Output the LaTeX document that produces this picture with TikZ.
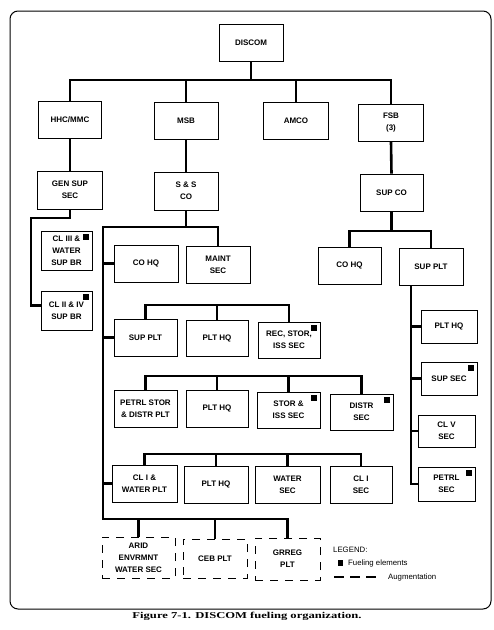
\documentclass[tikz,border=0pt]{standalone}
\usepackage{fontspec}
\setmainfont{Liberation Sans}
\newfontfamily\captionfont{Liberation Serif}

\begin{document}
\begin{tikzpicture}[x=1pt,y=-1pt,font=\fontsize{8}{12}\selectfont\bfseries]
  \tikzstyle{unit}=[draw, line width=0.9pt, align=center, inner sep=1pt, minimum width=64pt, minimum height=37pt]
  \tikzstyle{augment}=[unit, dash pattern=on 8pt off 7pt]
  \tikzstyle{link}=[line width=2.6pt, line join=miter]
  \tikzstyle{key}=[font=\fontsize{7.8}{10}\selectfont\mdseries, anchor=west, inner sep=0pt]

  \useasboundingbox (0,0) rectangle (494,630);
  \draw[line width=1pt, rounded corners=8pt] (10,11) rectangle (491,609);

  \node[unit] (discom) at (251,43) {DISCOM};
  \node[unit, minimum width=63pt] (hhc) at (70,120) {HHC/MMC};
  \node[unit] (msb) at (186,121) {MSB};
  \node[unit, minimum width=65pt] (amco) at (296,121) {AMCO};
  \node[unit, minimum width=65pt] (fsb) at (391,123) {FSB\\(3)};

  \node[unit, minimum width=65pt, minimum height=38pt] (gensup) at (70,190) {GEN SUP\\SEC};
  \node[unit, minimum width=51pt, minimum height=39pt] (cl3) at (66.5,250.5) {CL III \&\\WATER\\SUP BR};
  \node[unit, minimum width=51pt, minimum height=39pt] (cl2) at (66.5,310.5) {CL II \& IV\\SUP BR};

  \node[unit, minimum height=38pt] (ssco) at (186,191) {S \& S\\CO};
  \node[unit] (cohq1) at (146,263.5) {CO HQ};
  \node[unit] (maint) at (218,264.5) {MAINT\\SEC};
  \node[unit, minimum width=63pt] (supplt1) at (145.5,337.5) {SUP PLT};
  \node[unit, minimum width=62pt, minimum height=36pt] (plthq1) at (217,338) {PLT HQ};
  \node[unit, minimum width=62pt, minimum height=36pt] (reciss) at (289,340) {REC, STOR,\\ISS SEC};
  \node[unit, minimum width=63pt] (petrlstor) at (145.5,408.5) {PETRL STOR\\\& DISTR PLT};
  \node[unit, minimum width=62pt] (plthq2) at (217,408.5) {PLT HQ};
  \node[unit, minimum width=63pt, minimum height=36pt] (storiss) at (288.5,410) {STOR \&\\ISS SEC};
  \node[unit, minimum width=63pt, minimum height=36pt] (distr) at (361.5,412) {DISTR\\SEC};
  \node[unit, minimum width=65pt] (clwater) at (144.5,483.5) {CL I \&\\WATER PLT};
  \node[unit] (plthq3) at (216,484.5) {PLT HQ};
  \node[unit, minimum width=65pt] (watersec) at (287.5,484.5) {WATER\\SEC};
  \node[unit, minimum width=62pt] (cl1sec) at (361,485) {CL I\\SEC};
  \node[augment, minimum width=73pt, minimum height=41pt] (arid) at (138.5,557.5) {ARID\\ENVRMNT\\WATER SEC};
  \node[augment, minimum height=39pt] (ceb) at (215,558.5) {CEB PLT};
  \node[augment, minimum width=65pt, minimum height=42pt] (grreg) at (287.5,559) {GRREG\\PLT};

  \node[unit, minimum width=63pt] (supco) at (391.5,192.5) {SUP CO};
  \node[unit, minimum width=63pt] (cohq2) at (349.5,265.5) {CO HQ};
  \node[unit] (supplt2) at (431,266.5) {SUP PLT};
  \node[unit, minimum width=56pt, minimum height=33pt] (plthq4) at (449,326.5) {PLT HQ};
  \node[unit, minimum width=56pt, minimum height=33pt] (supsec) at (449,378.5) {SUP SEC};
  \node[unit, minimum width=57pt, minimum height=32pt] (clv) at (446.5,431) {CL V\\SEC};
  \node[unit, minimum width=57pt, minimum height=34pt] (petrl) at (446.5,484) {PETRL\\SEC};

  \foreach \n in {cl3,cl2,reciss,storiss,distr,supsec,petrl}
    \fill ([xshift=-3.5pt,yshift=-3pt]\n.north east) rectangle ++(-6pt,-6pt);

  \coordinate (topbus) at (251,80);
  \draw[link] (discom.south) -- (topbus);
  \draw[link] (hhc.north) |- (topbus) -| (fsb.north);
  \draw[link] (msb.north) -- (msb.north |- topbus);
  \draw[link] (amco.north) -- (amco.north |- topbus);

  \draw[link] (hhc.south) -- (gensup.north);
  \coordinate (hhcbus) at (31,218);
  \draw[link] (gensup.south) |- (hhcbus) |- ([yshift=5pt]cl2.west);

  \draw[link] (msb.south) -- (ssco.north);
  \coordinate (ssbus) at (103,227);
  \coordinate (trunkend) at (103,519);
  \draw[link] (ssco.south) -- (ssco.south |- ssbus);
  \draw[link] (maint.north) |- (ssbus) -- (trunkend) -| (grreg.north);
  \foreach \n in {cohq1,supplt1,clwater}
    \draw[link] (\n.west) -- (\n.west -| trunkend);
  \foreach \n in {arid,ceb}
    \draw[link] (\n.north) -- (\n.north |- trunkend);

  \coordinate (rowb) at (0,305);
  \draw[link] (supplt1.north) |- (rowb -| reciss.north) -- (reciss.north);
  \draw[link] (plthq1.north) -- (plthq1.north |- rowb);
  \coordinate (rowc) at (0,376);
  \draw[link] (petrlstor.north) |- (rowc -| distr.north) -- (distr.north);
  \foreach \n in {plthq2,storiss}
    \draw[link] (\n.north) -- (\n.north |- rowc);
  \coordinate (rowd) at (0,454);
  \draw[link] (clwater.north) |- (rowd -| cl1sec.north) -- (cl1sec.north);
  \foreach \n in {plthq3,watersec}
    \draw[link] (\n.north) -- (\n.north |- rowd);

  \draw[link] (fsb.south) -- (supco.north);
  \coordinate (fsbbus) at (0,231);
  \draw[link] (cohq2.north) |- (fsbbus -| supplt2.north) -- (supplt2.north);
  \draw[link] (supco.south) -- (supco.south |- fsbbus);
  \coordinate (rcol) at (411,0);
  \draw[link] (supplt2.south -| rcol) |- (petrl.west);
  \foreach \n in {plthq4,supsec,clv}
    \draw[link] (\n.west) -- (\n.west -| rcol);

  \node[key] (legend) at (333,550) {LEGEND:};
  \node[fill, minimum size=5.5pt, inner sep=0pt] (keysq) at (340.5,563) {};
  \node[key] (keyfuel) at (348,563) {Fueling elements};
  \node[key] (keyaug) at (388,577) {Augmentation};
  \coordinate (keydash) at (334,577);
  \draw[line width=1.2pt, dash pattern=on 10pt off 6pt] (keydash) -- ([xshift=-10pt]keyaug.west);

  \node[font=\captionfont\bfseries\fontsize{9}{10}\selectfont] (caption) at (247,616) {\scalebox{1.4}[1]{Figure 7-1. DISCOM fueling organization.}};
\end{tikzpicture}
\end{document}
